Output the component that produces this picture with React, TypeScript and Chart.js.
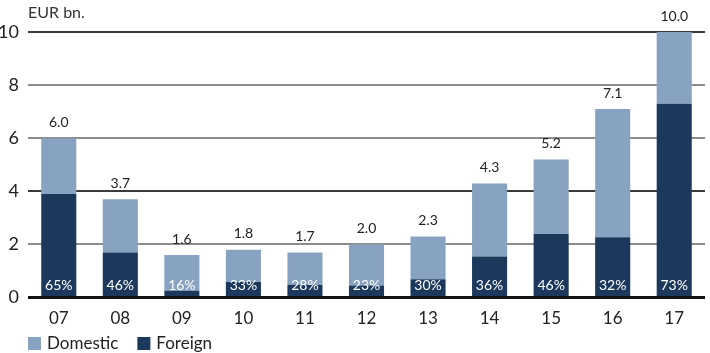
import React, { useEffect, useRef } from "react";
import { Chart, registerables } from "chart.js";

Chart.register(...registerables);

const years = ["07", "08", "09", "10", "11", "12", "13", "14", "15", "16", "17"];
const totals = [6.0, 3.7, 1.6, 1.8, 1.7, 2.0, 2.3, 4.3, 5.2, 7.1, 10.0];
const foreignShare = [65, 46, 16, 33, 28, 23, 30, 36, 46, 32, 73];
const foreign = [3.9, 1.7, 0.26, 0.59, 0.48, 0.46, 0.69, 1.55, 2.39, 2.27, 7.3];
const domestic = [2.1, 2.0, 1.34, 1.21, 1.22, 1.54, 1.61, 2.75, 2.81, 4.83, 2.7];
const yTicks = [0, 2, 4, 6, 8, 10];

const FONT = "Lato, 'Open Sans', sans-serif";
const DOMESTIC_COLOR = "#87a3c1";
const FOREIGN_COLOR = "#1c395d";

const labelPlugin = {
  id: "labels",
  afterDatasetsDraw(chart: any) {
    const ctx = chart.ctx;
    const y = chart.scales.y;
    const area = chart.chartArea;
    ctx.save();
    // baseline
    ctx.strokeStyle = "#111";
    ctx.lineWidth = 3;
    ctx.beginPath();
    ctx.moveTo(area.left, y.getPixelForValue(0));
    ctx.lineTo(area.right, y.getPixelForValue(0));
    ctx.stroke();
    const meta = chart.getDatasetMeta(0);
    ctx.textAlign = "center";
    ctx.textBaseline = "middle";
    meta.data.forEach((bar: any, i: number) => {
      ctx.fillStyle = "#ffffff";
      ctx.font = `14px ${FONT}`;
      ctx.fillText(`${foreignShare[i]}%`, bar.x, y.getPixelForValue(0) - 12);
      ctx.fillStyle = "#222";
      ctx.font = `14px ${FONT}`;
      ctx.fillText(totals[i].toFixed(1), bar.x, y.getPixelForValue(totals[i]) - 16);
    });
    ctx.font = `16px ${FONT}`;
    ctx.textAlign = "left";
    ctx.fillStyle = "#333";
    ctx.fillText("EUR bn.", area.left, 13);

    // legend
    const items = [
      { label: "Domestic", color: DOMESTIC_COLOR },
      { label: "Foreign", color: FOREIGN_COLOR },
    ];
    let x = area.left;
    const cy = 343;
    ctx.font = `17px ${FONT}`;
    items.forEach((it) => {
      ctx.fillStyle = it.color;
      ctx.fillRect(x, cy - 6, 13, 13);
      ctx.fillStyle = "#222";
      ctx.fillText(it.label, x + 19, cy + 1);
      x += 19 + ctx.measureText(it.label).width + 19;
    });
    ctx.restore();
  },
};

export default function App() {
  const ref = useRef<HTMLCanvasElement>(null);
  useEffect(() => {
    document.body.style.margin = "0";
    const chart = new Chart(ref.current!, {
      type: "bar",
      data: {
        labels: years,
        datasets: [
          {
            label: "Foreign",
            data: foreign,
            backgroundColor: FOREIGN_COLOR,
            barPercentage: 0.57,
            categoryPercentage: 1,
          },
          {
            label: "Domestic",
            data: domestic,
            backgroundColor: DOMESTIC_COLOR,
            barPercentage: 0.57,
            categoryPercentage: 1,
          },
        ],
      },
      options: {
        responsive: false,
        animation: false,
        layout: { padding: { left: 0, right: 5, top: 32, bottom: 13 } },
        plugins: {
          tooltip: { enabled: false },
          legend: { display: false },
        },
        scales: {
          x: {
            stacked: true,
            grid: { display: false, drawTicks: false },
            border: { display: false },
            ticks: { color: "#222", font: { family: FONT, size: 17 }, padding: 11 },
          },
          y: {
            stacked: true,
            min: 0,
            max: 10,
            afterBuildTicks(scale: any) {
              scale.ticks = yTicks.map((v) => ({ value: v }));
            },
            afterFit(scale: any) {
              scale.width = 28;
            },
            border: { display: false },
            grid: {
              drawTicks: false,
              lineWidth: 2,
              color: (c: any) => {
                const v = c.tick ? c.tick.value : 0;
                if (v === 0) return "rgba(0,0,0,0)";
                if (v === 10 || v === 4) return "#3a3a3a";
                return "#8c8c8c";
              },
            },
            ticks: { color: "#222", font: { family: FONT, size: 18 }, padding: 9 },
          },
        },
      },
      plugins: [labelPlugin],
    } as any);
    return () => chart.destroy();
  }, []);
  return <canvas ref={ref} width={710} height={353} style={{ display: "block" }} />;
}
